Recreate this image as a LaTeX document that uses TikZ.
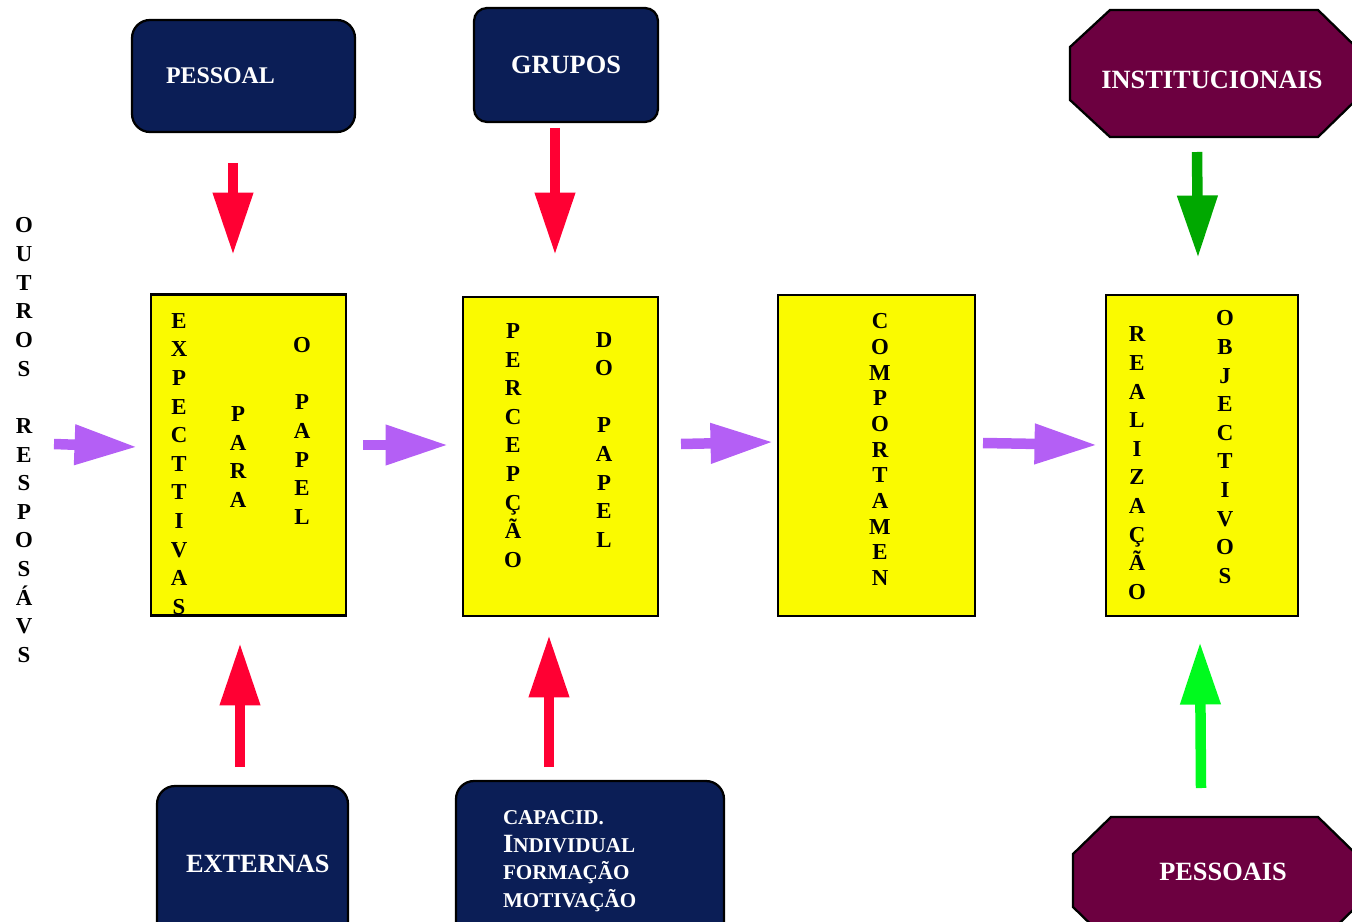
\documentclass[tikz,border=0pt]{standalone}
\usepackage{fontspec}
\setmainfont{Liberation Serif}
\usepackage{tikz}
\usetikzlibrary{arrows.meta,positioning}

\definecolor{navy}{RGB}{11,30,86}
\definecolor{wine}{RGB}{108,0,64}
\definecolor{roleyellow}{RGB}{250,250,0}
\definecolor{arrred}{RGB}{255,0,51}
\definecolor{arrpurple}{RGB}{180,95,245}
\definecolor{arrgreen}{RGB}{0,168,0}
\definecolor{arrlime}{RGB}{0,250,30}

\tikzset{
  navybox/.style={draw=black,line width=1.3pt,fill=navy,rounded corners=0.36cm,text=white,
    font=\bfseries\fontsize{15}{17}\selectfont},
  winebox/.style={draw=black,line width=1.3pt,fill=wine},
  winetext/.style={text=white,font=\bfseries\fontsize{15}{17}\selectfont},
  rolebox/.style={draw=black,line width=1.5pt,fill=roleyellow,minimum width=3.9cm,minimum height=6.42cm},
  vword/.style={align=center,anchor=base,inner sep=0pt,font=\bfseries\fontsize{13}{16.3}\selectfont},
  blockarrow/.style={line width=0.21cm,-{Triangle[length=1.25cm,width=0.76cm]}},
}

\begin{document}
\begin{tikzpicture}[x=0.02cm,y=-0.02cm]
\useasboundingbox (0,0) rectangle (1352,922);

% sources on top
\node[navybox,minimum width=4.46cm,minimum height=2.24cm,inner xsep=0.68cm,text width=3.1cm,align=left,
  font=\bfseries\fontsize{13.6}{16}\selectfont] (pessoal) at (243.5,76) {PESSOAL};
\node[navybox,minimum width=3.68cm,minimum height=2.28cm,rounded corners=0.26cm] (grupos) at (566,65) {GRUPOS};
\draw[winebox] (1110,10) -- (1318,10) -- (1356,47) -- (1356,100) -- (1318,137) -- (1110,137) -- (1070,100) -- (1070,47) -- cycle;
\node[winetext] (instit) at (1212,80) {INSTITUCIONAIS};

% sources at the bottom
\node[navybox,minimum width=3.82cm,minimum height=3.12cm,inner xsep=0.58cm,text width=2.66cm,align=left] (externas) at (252.5,864)
  {EXTERNAS};
\node[navybox,minimum width=5.36cm,minimum height=3.2cm,inner xsep=0.94cm,text width=3.48cm,align=left,
  font=\bfseries\fontsize{12}{15.7}\selectfont] (capacid) at (590,861)
  {CAPACID.\\{\fontsize{15}{15.7}\selectfont I}NDIVIDUAL\\FORMAÇÃO\\MOTIVAÇÃO};
\draw[winebox] (1111,817) -- (1318,817) -- (1356,854) -- (1356,907) -- (1318,944) -- (1111,944) -- (1073,907) -- (1073,854) -- cycle;
\node[winetext] (pessoais) at (1223,872) {PESSOAIS};

% yellow boxes
\node[rolebox] (expect) at (248.5,455) {};
\node[rolebox,minimum height=6.38cm] (percep) at (560.5,456.5) {};
\node[rolebox,minimum width=3.94cm] (compor) at (876.5,455.5) {};
\node[rolebox,minimum width=3.84cm] (realiz) at (1202,455.5) {};

% vertical words (placed by the baseline of their last letter)
\node[vword] (outros) at (24,662.5) {O\\U\\T\\R\\O\\S\\\strut\\R\\E\\S\\P\\O\\S\\Á\\V\\S};
\node[vword] (expw) at (179,614.5) {E\\X\\P\\E\\C\\T\\T\\I\\V\\A\\S};
\node[vword] (paraw) at (238,507.5) {P\\A\\R\\A};
\node[vword] (papw) at (302,524.5) {O\\\strut\\P\\A\\P\\E\\L};
\node[vword] (percw) at (513,567.5) {P\\E\\R\\C\\E\\P\\Ç\\Ã\\O};
\node[vword] (dopw) at (604,547.5) {D\\O\\\strut\\P\\A\\P\\E\\L};
\node[vword,font=\bfseries\fontsize{13}{14.6}\selectfont] (compw) at (880,585.5) {C\\O\\M\\P\\O\\R\\T\\A\\M\\E\\N};
\node[vword] (realw) at (1137,599.5) {R\\E\\A\\L\\I\\Z\\A\\Ç\\Ã\\O};
\node[vword] (objw) at (1225,583.5) {O\\B\\J\\E\\C\\T\\I\\V\\O\\S};

% arrow ends
\coordinate (r1a) at (233,163); \coordinate (r1b) at (233,255);
\coordinate (r2a) at (555,128); \coordinate (r2b) at (555,255);
\coordinate (r3a) at (240,767); \coordinate (r3b) at (240,643);
\coordinate (r4a) at (549,767); \coordinate (r4b) at (549,635);
\coordinate (g1a) at (1197,152); \coordinate (g1b) at (1198,258);
\coordinate (g2a) at (1201,788); \coordinate (g2b) at (1200,642);
\coordinate (p1a) at (54,444); \coordinate (p1b) at (137,447);
\coordinate (p2a) at (363,445); \coordinate (p2b) at (448,445);
\coordinate (p3a) at (681,444); \coordinate (p3b) at (773,442);
\coordinate (p4a) at (983,443); \coordinate (p4b) at (1097,445);

\foreach \s/\t in {r1a/r1b,r2a/r2b,r3a/r3b,r4a/r4b}
  \draw[blockarrow,arrred] (\s) -- (\t);
\draw[blockarrow,arrgreen] (g1a) -- (g1b);
\draw[blockarrow,arrlime] (g2a) -- (g2b);
\foreach \s/\t in {p1a/p1b,p2a/p2b,p3a/p3b,p4a/p4b}
  \draw[blockarrow,arrpurple] (\s) -- (\t);
\end{tikzpicture}
\end{document}
